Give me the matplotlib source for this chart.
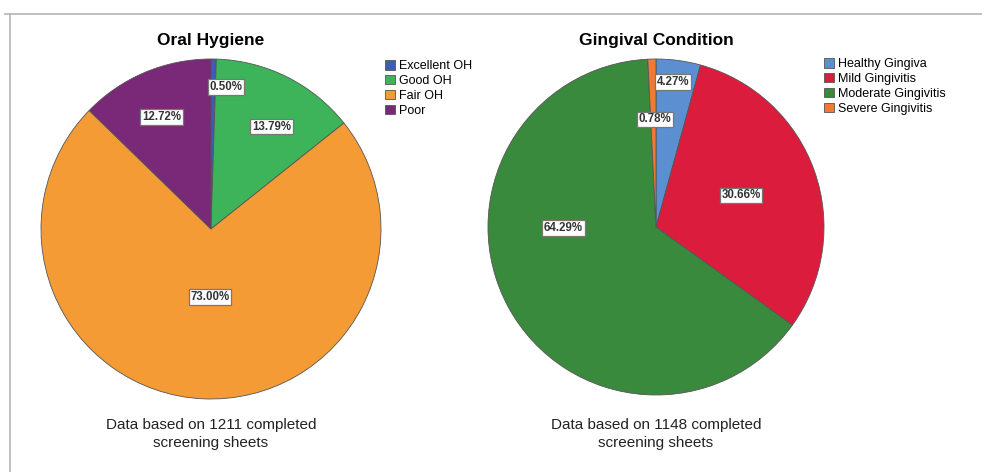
import numpy as np
import matplotlib
matplotlib.use('Agg')
import matplotlib.pyplot as plt
from matplotlib.lines import Line2D

plt.rcParams['font.family'] = ['Liberation Sans', 'DejaVu Sans']

# oral hygiene
oh_labels = ['Excellent OH', 'Good OH', 'Fair OH', 'Poor']
oh_values = [0.50, 13.79, 73.00, 12.72]
oh_colors = ['#3b5db3', '#3db35a', '#f59b35', '#7a2878']
oh_n = 1211

# gingival condition
gc_labels = ['Healthy Gingiva', 'Mild Gingivitis', 'Moderate Gingivitis', 'Severe Gingivitis']
gc_values = [4.27, 30.66, 64.29, 0.78]
gc_colors = ['#5b8fd1', '#dc1c3d', '#398a3d', '#f07a32']
gc_n = 1148

# where the % boxes sit (fraction of radius, nudge in degrees)
oh_lab_dist = [0.84, 0.70, 0.40, 0.72]
oh_lab_nudge = [-5, -4, 2, 1]
gc_lab_dist = [0.87, 0.54, 0.55, 0.64]
gc_lab_nudge = [1, 1, -28, -1]

fig = plt.figure(figsize=(9.82, 4.72), dpi=100)

# light gray frame (top and left)
fig.add_artist(Line2D([5 / 982, 1], [1 - 14 / 472] * 2, color='#b5b5b5', lw=1.2))
fig.add_artist(Line2D([10 / 982] * 2, [0, 1 - 14 / 472], color='#b5b5b5', lw=1.2))


def draw_pie(rect, values, colors, labels, dists, nudges, title, n, leg_anchor):
    ax = fig.add_axes(rect)
    wedges, _ = ax.pie(values, colors=colors, startangle=90, counterclock=False,
                       radius=1, wedgeprops=dict(edgecolor='#555555', linewidth=0.6))
    for w, v, d, nd in zip(wedges, values, dists, nudges):
        ang = np.deg2rad((w.theta1 + w.theta2) / 2 + nd)
        ax.text(d * np.cos(ang), d * np.sin(ang), '%.2f%%' % v, ha='center', va='center',
                fontsize=8.3, fontweight='bold', color='#333333',
                bbox=dict(boxstyle='square,pad=0.15', fc='white', ec='#777777', lw=0.9))
    ax.set_xlim(-1, 1)
    ax.set_ylim(-1, 1)
    ax.set_aspect('equal')
    ax.axis('off')
    cx = rect[0] + rect[2] / 2
    fig.text(cx, 1 - 40 / 472, title, ha='center', va='center', fontsize=12.5, fontweight='bold')
    fig.text(cx, 1 - 434 / 472, 'Data based on %d completed\nscreening sheets' % n,
             ha='center', va='center', fontsize=11, linespacing=1.3, color='#222222')
    fig.legend(wedges, labels, loc='upper left', bbox_to_anchor=leg_anchor, frameon=False,
               fontsize=9, handlelength=0.8, handleheight=0.8, handletextpad=0.35,
               labelspacing=0.22, borderpad=0, borderaxespad=0)


draw_pie([41 / 982, 1 - 399 / 472, 340 / 982, 340 / 472], oh_values, oh_colors, oh_labels,
         oh_lab_dist, oh_lab_nudge, 'Oral Hygiene', oh_n, (385 / 982, 1 - 60 / 472))
draw_pie([488 / 982, 1 - 395 / 472, 336 / 982, 336 / 472], gc_values, gc_colors, gc_labels,
         gc_lab_dist, gc_lab_nudge, 'Gingival Condition', gc_n, (824 / 982, 1 - 58 / 472))

plt.savefig('out.png', dpi=100)
